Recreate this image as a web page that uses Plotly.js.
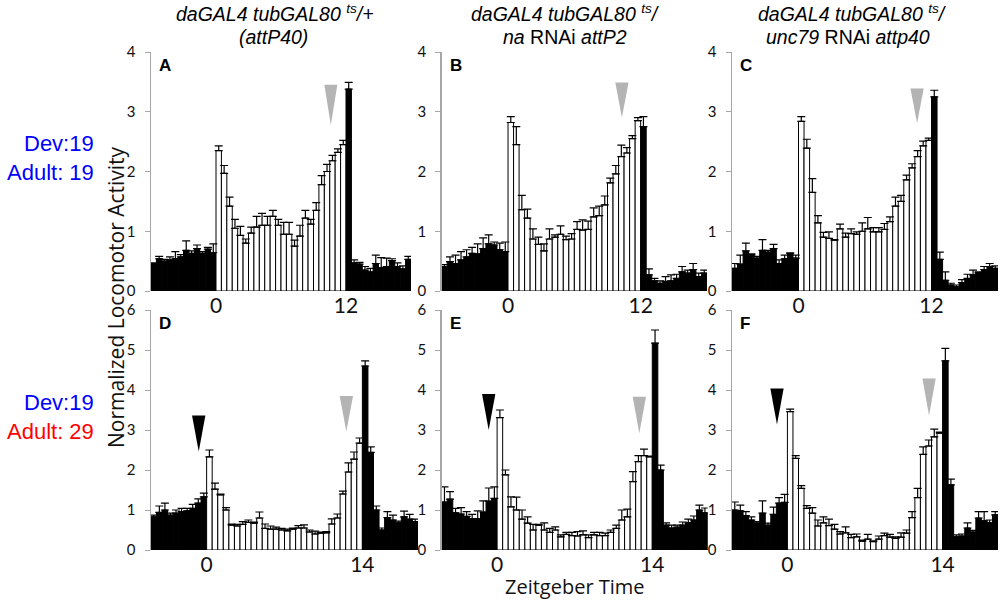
<!DOCTYPE html>
<html><head><meta charset="utf-8">
<script src="https://cdn.plot.ly/plotly-3.0.1.min.js"></script>
<style>html,body{margin:0;padding:0;background:#fff}#chart{width:1000px;height:603px}</style>
</head><body><div id="chart"></div>
<script>
// ---- Data: normalized activity per 30-min bin (mean) and SEM ----
const binHours = 0.5;
// top row: ZT -6 .. 18, light 0..12 ; bottom row: ZT -5 .. 19, light 0..14
const topStartZT = -6, topLight = 12;
const botStartZT = -5, botLight = 14;

const aVals = [0.45,0.54,0.5,0.52,0.54,0.57,0.68,0.63,0.71,0.63,0.7,0.64,
  2.35,1.97,1.42,1.05,0.93,0.8,0.97,1.07,1.1,1.1,1.25,1.1,0.95,0.95,0.75,0.92,1.22,1.12,1.35,1.78,2.0,2.18,2.32,2.45,
  3.38,0.47,0.45,0.35,0.32,0.46,0.39,0.41,0.51,0.41,0.37,0.53];
const aErrs = [0.02,0.04,0.03,0.05,0.12,0.04,0.16,0.04,0.06,0.03,0.03,0.15,
  0.08,0.13,0.15,0.15,0.15,0.07,0.1,0.18,0.2,0.15,0.1,0.1,0.2,0.2,0.1,0.18,0.13,0.08,0.13,0.15,0.12,0.09,0.06,0.07,
  0.11,0.05,0.03,0.06,0.06,0.14,0.17,0.14,0.03,0.06,0.05,0.05];

const bVals = [0.41,0.49,0.46,0.52,0.57,0.63,0.62,0.71,0.79,0.77,0.69,0.66,
  2.82,2.45,1.36,1.22,0.87,0.78,0.67,0.87,0.9,0.95,0.86,0.87,1.03,1.02,1.03,1.24,1.26,1.44,1.81,1.96,2.25,2.31,2.55,2.85,
  2.75,0.27,0.17,0.13,0.16,0.17,0.21,0.32,0.3,0.36,0.24,0.3];
const bErrs = [0.03,0.08,0.14,0.14,0.12,0.1,0.17,0.18,0.15,0.05,0.11,0.16,
  0.1,0.3,0.24,0.15,0.17,0.12,0.12,0.17,0.04,0.14,0.06,0.09,0.13,0.17,0.14,0.15,0.16,0.15,0.08,0.14,0.19,0.09,0.05,0.05,
  0.17,0.1,0.04,0.04,0.08,0.1,0.07,0.09,0.05,0.1,0.06,0.05];

const cVals = [0.38,0.45,0.67,0.6,0.55,0.68,0.65,0.71,0.46,0.54,0.63,0.55,
  2.84,2.39,1.65,1.14,0.9,0.88,0.85,1.04,0.9,0.96,0.95,1.0,1.04,0.99,0.99,1.03,1.16,1.42,1.5,1.86,2.06,2.25,2.43,2.52,
  3.25,0.53,0.18,0.1,0.07,0.14,0.21,0.27,0.3,0.36,0.41,0.38];
const cErrs = [0.08,0.15,0.13,0.02,0.03,0.18,0.03,0.07,0.06,0.06,0.01,0.05,
  0.08,0.15,0.23,0.12,0.08,0.11,0.01,0.08,0.07,0.08,0.04,0.14,0.19,0.07,0.07,0.1,0.08,0.15,0.1,0.08,0.07,0.1,0.08,0.04,
  0.11,0.12,0.14,0.03,0.03,0.05,0.07,0.08,0.02,0.05,0.05,0.04];

const dVals = [0.83,0.94,1.0,0.87,0.92,0.96,0.98,1.04,1.17,1.33,
  2.33,1.52,1.38,1.0,0.62,0.6,0.64,0.69,0.67,0.8,0.54,0.52,0.52,0.5,0.48,0.52,0.55,0.55,0.45,0.4,0.42,0.43,0.65,0.8,1.4,1.95,2.27,2.67,
  4.6,2.44,1.0,0.5,0.81,0.75,0.68,0.83,0.77,0.71];
const dErrs = [0.04,0.16,0.17,0.05,0.08,0.08,0.06,0.1,0.11,0.09,
  0.17,0.15,0.02,0.06,0.03,0.04,0.07,0.06,0.03,0.15,0.11,0.08,0.05,0.04,0.04,0.03,0.06,0.08,0.05,0.07,0.03,0.03,0.13,0.1,0.07,0.23,0.18,0.13,
  0.13,0.14,0.1,0.05,0.15,0.12,0.04,0.14,0.12,0.06];

const eVals = [1.2,1.27,0.93,0.9,0.84,0.78,0.78,0.95,1.22,1.29,
  3.31,1.88,1.08,1.0,0.77,0.67,0.5,0.62,0.5,0.44,0.5,0.33,0.39,0.36,0.35,0.38,0.31,0.38,0.36,0.36,0.44,0.54,0.75,0.83,1.71,2.21,2.36,2.33,
  5.17,2.0,0.62,0.55,0.57,0.62,0.68,0.75,1.0,0.93];
const eErrs = [0.38,0.19,0.11,0.16,0.12,0.11,0.2,0.28,0.33,0.29,
  0.19,0.12,0.25,0.32,0.23,0.16,0.14,0.02,0.18,0.1,0.08,0.05,0.05,0.08,0.11,0.1,0.07,0.06,0.08,0.06,0.06,0.08,0.25,0.19,0.25,0.15,0.16,0.02,
  0.33,0.12,0.06,0.07,0.05,0.08,0.09,0.1,0.12,0.12];

const fVals = [1.0,0.98,0.86,0.75,0.67,0.92,0.62,0.89,1.17,1.19,
  3.46,2.29,1.54,1.04,0.92,0.6,0.68,0.61,0.52,0.4,0.43,0.31,0.33,0.22,0.27,0.21,0.27,0.36,0.32,0.29,0.32,0.42,0.81,1.31,2.39,2.6,2.83,2.92,
  4.73,1.63,0.33,0.35,0.55,0.45,0.8,0.73,0.68,0.88];
const fErrs = [0.2,0.14,0.1,0.08,0.04,0.31,0.05,0.18,0.14,0.2,
  0.06,0.07,0.07,0.07,0.14,0.15,0.15,0.16,0.12,0.06,0.15,0.08,0.07,0.03,0.12,0.02,0.08,0.06,0.07,0.04,0.11,0.08,0.15,0.23,0.19,0.15,0.19,0.03,
  0.31,0.14,0.05,0.05,0.13,0.04,0.16,0.23,0.07,0.08];

const topTicks = [0, 12];
const botTicks = [0, 14];
const panelLetters = ['A','B','C','D','E','F'];

// arrowheads: [panelIndex, ZT center, y top, y tip, color]
const arrowheads = [
  [0, 10.6, 3.45, 2.78, '#b4b4b4'],
  [1, 10.3, 3.49, 2.90, '#b4b4b4'],
  [2, 10.7, 3.39, 2.81, '#b4b4b4'],
  [3, -0.71, 3.36, 2.46, '#000000'],
  [3, 12.56, 3.85, 2.96, '#b4b4b4'],
  [4, -0.76, 3.90, 3.00, '#000000'],
  [4, 12.83, 3.83, 2.92, '#b4b4b4'],
  [5, -0.94, 4.04, 3.14, '#000000'],
  [5, 12.78, 4.29, 3.36, '#b4b4b4']
];

// ---- Layout geometry ----
const H = 603;
const py = p => 1 - p / H;
const panels = [
  {vals:aVals, errs:aErrs, start:topStartZT, light:topLight, ticks:topTicks, ymax:4, xd:[0.151,0.411], yd:[py(291),py(52)]},
  {vals:bVals, errs:bErrs, start:topStartZT, light:topLight, ticks:topTicks, ymax:4, xd:[0.4417,0.707], yd:[py(291),py(52)]},
  {vals:cVals, errs:cErrs, start:topStartZT, light:topLight, ticks:topTicks, ymax:4, xd:[0.732,0.998], yd:[py(291),py(52)]},
  {vals:dVals, errs:dErrs, start:botStartZT, light:botLight, ticks:botTicks, ymax:6, xd:[0.151,0.418], yd:[py(550),py(310)]},
  {vals:eVals, errs:eErrs, start:botStartZT, light:botLight, ticks:botTicks, ymax:6, xd:[0.4417,0.7077], yd:[py(550),py(310)]},
  {vals:fVals, errs:fErrs, start:botStartZT, light:botLight, ticks:botTicks, ymax:6, xd:[0.732,0.998], yd:[py(550),py(310)]}
];

const numFont = 'Lato, "Open Sans", sans-serif';
const traces = [];
const layout = {
  width: 1000, height: 603, margin:{l:0,r:0,t:0,b:0},
  paper_bgcolor:'#fff', plot_bgcolor:'rgba(0,0,0,0)', showlegend:false,
  shapes: [], annotations: []
};

panels.forEach((p, i) => {
  const n = i + 1;
  const xs = p.vals.map((v, k) => p.start + binHours * (k + 0.5));
  const colors = xs.map(x => (x > 0 && x < p.light) ? '#ffffff' : '#000000');
  traces.push({
    type:'bar', x: xs, y: p.vals, width: binHours,
    xaxis: 'x' + n, yaxis: 'y' + n,
    marker: {color: colors, line: {color:'#000', width:1}},
    error_y: {type:'data', symmetric:false, array:p.errs, arrayminus:p.errs.map(()=>0),
      color:'#000', thickness:1.2, width:4},
    hoverinfo:'skip'
  });
  layout['xaxis' + n] = {
    domain: p.xd, anchor: 'y' + n, range: [p.start, p.start + 24],
    tickmode:'array', tickvals: p.ticks, ticktext: p.ticks.map(String),
    ticks:'', showline:false, showgrid:false, zeroline:false,
    tickfont:{family:numFont, size:21, color:'#111'}
  };
  layout['yaxis' + n] = {
    domain: p.yd, anchor: 'x' + n, range: [0, p.ymax], dtick: 1, tick0: 0,
    showline:true, linecolor:'#a6a6a6', linewidth:1.5,
    ticks:'outside', ticklen:5, tickcolor:'#a6a6a6', tickwidth:1,
    ticklabelstandoff: 6,
    showgrid:false, zeroline:false,
    tickfont:{family:numFont, size:15, color:'#111'}
  };
  layout.annotations.push({
    xref:'paper', yref:'paper', x: p.xd[0] + 0.006, y: p.yd[1] - 0.004,
    xanchor:'left', yanchor:'top', showarrow:false, text:'<b>' + panelLetters[i] + '</b>',
    font:{family:'"Liberation Sans", Arial, sans-serif', size:17, color:'#000'}
  });
});

arrowheads.forEach(([pi, xc, yTop, yTip, col]) => {
  const n = pi + 1;
  const hw = 0.6;
  layout.shapes.push({
    type:'path', xref:'x' + n, yref:'y' + n,
    path:`M ${xc-hw} ${yTop} L ${xc+hw} ${yTop} L ${xc} ${yTip} Z`,
    fillcolor: col, line:{width:0}
  });
});

const tFont = {family:'"Liberation Sans", Arial, sans-serif', size:19.5, color:'#000'};
function addText(text, xpx, ypx, font, extra) {
  layout.annotations.push(Object.assign({
    xref:'paper', yref:'paper', x: xpx/1000, y: 1 - ypx/H,
    xanchor:'center', yanchor:'middle', showarrow:false, text, font
  }, extra || {}));
}
const l1 = '<i>daGAL4 tubGAL80 </i><sup><i>ts</i></sup><i>/</i>';
addText(l1 + '<i>+</i>', 275, 13, tFont);
addText('<i>(attP40)</i>', 273, 37, tFont);
addText(l1, 565, 13, tFont);
addText('<i>na</i> RNAi <i>attP2</i>', 565, 37, tFont);
addText(l1, 852, 13, tFont);
addText('<i>unc79</i> RNAi <i>attp40</i>', 848, 37, tFont);

const sideFont = c => ({family:'"Liberation Sans", Arial, sans-serif', size:22, color:c});
addText('Dev:19', 96, 143, sideFont('#0000ff'), {xanchor:'right'});
addText('Adult: 19', 96, 172, sideFont('#0000ff'), {xanchor:'right'});
addText('Dev:19', 96, 402, sideFont('#0000ff'), {xanchor:'right'});
addText('Adult: 29', 96, 431, sideFont('#ff0000'), {xanchor:'right'});

addText('Normalized Locomotor Activity', 116, 297, {family:'"Open Sans", sans-serif', size:21, color:'#111'}, {textangle:-90});
addText('Zeitgeber Time', 575, 586, {family:'"Open Sans", sans-serif', size:20, color:'#111'});

Plotly.newPlot('chart', traces, layout, {staticPlot:true, displayModeBar:false});
</script></body></html>
